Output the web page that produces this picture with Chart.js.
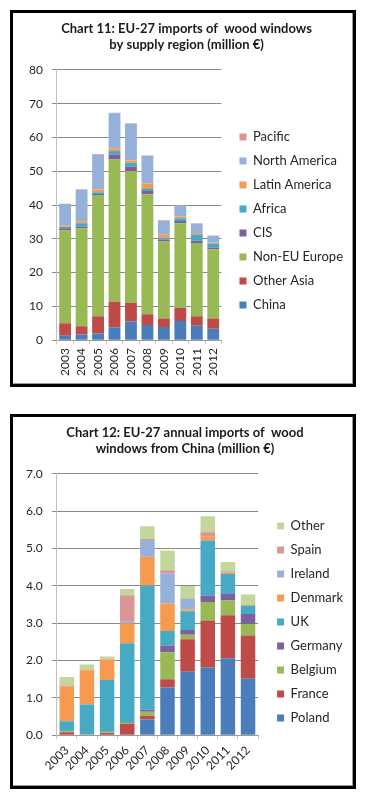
<!DOCTYPE html>
<html>
<head>
<meta charset="utf-8">
<script src="https://cdn.jsdelivr.net/npm/chart.js@4.4.1/dist/chart.umd.min.js"></script>
<style>
  body { margin: 0; background: #fff; width: 366px; height: 803px; position: relative; overflow: hidden; }
  .panel { position: absolute; left: 10px; width: 340px; border: 3px solid #000; box-shadow: inset -1px -1px 0 #9a9a9a; background: #fff; }
  #p1 { top: 10px; height: 371px; }
  #p2 { top: 414px; height: 369px; }
  canvas { display: block; }
</style>
</head>
<body>
<div class="panel" id="p1"><canvas id="chart11" width="340" height="371"></canvas></div>
<div class="panel" id="p2"><canvas id="chart12" width="340" height="369"></canvas></div>
<script>
const years = ['2003', '2004', '2005', '2006', '2007', '2008', '2009', '2010', '2011', '2012'];

// chart 11 - million EUR by supply region
const china        = [1.3, 1.7, 2.0, 3.8, 5.5, 4.5, 3.9, 5.7, 4.3, 3.4];
const otherAsia    = [3.7, 2.4, 5.1, 7.6, 5.5, 3.2, 2.5, 3.8, 2.8, 3.0];
const nonEuEurope  = [27.5, 29.0, 35.9, 42.1, 39.1, 35.5, 22.8, 25.1, 21.7, 20.5];
const cis          = [0.6, 0.5, 0.3, 1.5, 1.3, 1.2, 0.6, 0.7, 0.6, 0.5];
const africa       = [0.5, 1.0, 0.5, 1.0, 1.1, 0.6, 0.5, 0.8, 1.9, 1.2];
const latinAmerica = [0.4, 0.6, 0.8, 0.8, 0.7, 1.4, 0.9, 0.5, 0.4, 0.3];
const northAmerica = [6.3, 9.4, 10.3, 10.4, 10.9, 8.1, 4.1, 3.3, 2.8, 2.0];
const pacific      = [0.1, 0.1, 0.2, 0.1, 0.1, 0.2, 0.2, 0.1, 0.1, 0.1];

// chart 12 - million EUR from China by EU destination
const poland  = [0, 0, 0, 0, 0.42, 1.28, 1.70, 1.81, 2.06, 1.51];
const france  = [0.08, 0.02, 0.06, 0.30, 0.10, 0.22, 0.87, 1.26, 1.15, 1.16];
const belgium = [0.03, 0, 0.02, 0.03, 0.11, 0.72, 0.12, 0.50, 0.40, 0.31];
const germany = [0.01, 0, 0.02, 0.02, 0.05, 0.18, 0.13, 0.17, 0.17, 0.27];
const uk      = [0.25, 0.80, 1.38, 2.11, 3.33, 0.39, 0.50, 1.48, 0.54, 0.22];
const denmark = [0.93, 0.92, 0.55, 0.53, 0.77, 0.74, 0.05, 0.11, 0.04, 0.02];
const ireland = [0, 0, 0, 0.05, 0.45, 0.81, 0.28, 0.01, 0.02, 0];
const spain   = [0.03, 0.02, 0.01, 0.71, 0.03, 0.08, 0.01, 0.10, 0.02, 0];
const other   = [0.23, 0.13, 0.07, 0.17, 0.34, 0.53, 0.34, 0.43, 0.24, 0.28];

const BLUE = '#4A7EBB', RED = '#BE4B48', GREEN = '#98B954', PURPLE = '#7D60A0',
      AQUA = '#46AAC5', ORANGE = '#F59A4E', LBLUE = '#95B1DA', PINK = '#D99694', LGREEN = '#C3D69B';

const FONT = 'Lato, "Open Sans", sans-serif';
Chart.defaults.font.family = FONT;
Chart.defaults.color = '#262626';

function ds(label, data, color) {
  return { label, data, backgroundColor: color, borderWidth: 0 };
}

function makeChart(id, titleLines, datasets, yMax, yStep, yFmt, rot, bar, spacer, pad, legendTop) {
  return new Chart(document.getElementById(id), {
    type: 'bar',
    data: { labels: years, datasets },
    options: {
      responsive: false,
      animation: false,
      layout: { padding: pad },
      plugins: {
        tooltip: { enabled: false },
        title: {
          display: true,
          text: titleLines,
          color: '#1a1a1a',
          font: { family: FONT, size: 13, weight: 'bold', lineHeight: 1.23 },
          padding: { top: 8, bottom: 17 }
        },
        legend: {
          position: 'right',
          reverse: true,
          maxWidth: 160,
          // empty title only pushes the item column down
          title: { display: true, text: '', font: { size: 10, lineHeight: 1 }, padding: { top: legendTop, bottom: 0 } },
          labels: { boxWidth: 7, boxHeight: 7, padding: 11, color: '#262626', font: { family: FONT, size: 13 } }
        }
      },
      scales: {
        x: {
          stacked: true,
          categoryPercentage: 1,
          barPercentage: bar,
          grid: { offset: true, drawOnChartArea: false, drawTicks: true, tickLength: 4, color: '#c8c8c8' },
          border: { display: true, color: '#9a9a9a' },
          ticks: { autoSkip: false, minRotation: rot, maxRotation: rot, padding: 4, font: { size: 12 }, color: '#262626' }
        },
        y: {
          stacked: true,
          min: 0,
          max: yMax,
          grid: { color: '#8a8a8a', tickLength: 5 },
          border: { display: true, color: '#c0c0c0' },
          ticks: { stepSize: yStep, padding: 9, font: { size: 12 }, color: '#262626', callback: yFmt }
        },
        pad: {
          type: 'linear',
          position: 'right',
          display: true,
          grid: { display: false },
          border: { display: false },
          ticks: { display: false },
          afterFit(s) { s.width = spacer; }
        }
      }
    }
  });
}

makeChart('chart11',
  ['Chart 11: EU-27 imports of  wood windows', 'by supply region (million €)'],
  [
    ds('China', china, BLUE),
    ds('Other Asia', otherAsia, RED),
    ds('Non-EU Europe', nonEuEurope, GREEN),
    ds('CIS', cis, PURPLE),
    ds('Africa', africa, AQUA),
    ds('Latin America', latinAmerica, ORANGE),
    ds('North America', northAmerica, LBLUE),
    ds('Pacific', pacific, PINK)
  ],
  80, 10, v => v, 90, 0.63, 7, { left: 7, right: 0, top: 0, bottom: 4 }, 39);

makeChart('chart12',
  ['Chart 12: EU-27 annual imports of  wood', 'windows from China (million €)'],
  [
    ds('Poland', poland, BLUE),
    ds('France', france, RED),
    ds('Belgium', belgium, GREEN),
    ds('Germany', germany, PURPLE),
    ds('UK', uk, AQUA),
    ds('Denmark', denmark, ORANGE),
    ds('Ireland', ireland, LBLUE),
    ds('Spain', spain, PINK),
    ds('Other', other, LGREEN)
  ],
  7, 1, v => Number(v).toFixed(1), 45, 0.625, 8, { left: 4, right: 0, top: 0, bottom: 9 }, 40);
</script>
</body>
</html>
